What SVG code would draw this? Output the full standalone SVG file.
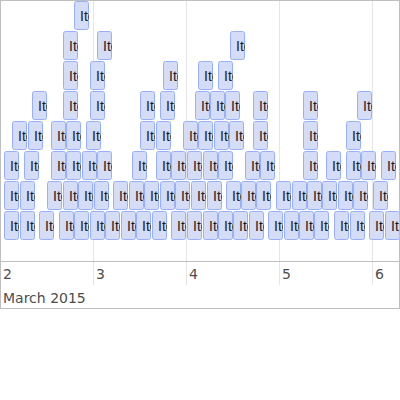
<svg xmlns="http://www.w3.org/2000/svg" width="400" height="400" viewBox="0 0 400 400">
<style>
.bx{fill:#D5DDF6;stroke:#97B0F8;stroke-width:1}
.it{font-family:"Liberation Sans",Arial,sans-serif;font-size:14px;fill:#1A1A1A}
.grid{stroke:#e5e5e5;stroke-width:1}
.ax{font-family:"DejaVu Sans",sans-serif;font-size:14px;fill:#4d4d4d}
</style>
<defs>
<g id="itm"><rect class="bx" x="0.5" y="0.5" width="14" height="28" rx="2"/><text class="it" x="6" y="20">Item</text></g>
</defs>
<rect x="0" y="0" width="400" height="400" fill="#fff"/>
<g id="grid">
<line class="grid" x1="93.5" y1="1" x2="93.5" y2="285"/>
<line class="grid" x1="186.5" y1="1" x2="186.5" y2="285"/>
<line class="grid" x1="279.5" y1="1" x2="279.5" y2="285"/>
<line class="grid" x1="372.5" y1="1" x2="372.5" y2="285"/>
</g>
<g id="items">
<svg id="i0-0" x="74" y="1" width="15" height="29"><use href="#itm"/></svg>
<svg id="i1-0" x="63" y="31" width="15" height="29"><use href="#itm"/></svg>
<svg id="i1-1" x="97" y="31" width="15" height="29"><use href="#itm"/></svg>
<svg id="i1-2" x="230" y="31" width="15" height="29"><use href="#itm"/></svg>
<svg id="i2-0" x="63" y="61" width="15" height="29"><use href="#itm"/></svg>
<svg id="i2-1" x="90" y="61" width="15" height="29"><use href="#itm"/></svg>
<svg id="i2-2" x="163" y="61" width="15" height="29"><use href="#itm"/></svg>
<svg id="i2-3" x="198" y="61" width="15" height="29"><use href="#itm"/></svg>
<svg id="i2-4" x="218" y="61" width="15" height="29"><use href="#itm"/></svg>
<svg id="i3-0" x="32" y="91" width="15" height="29"><use href="#itm"/></svg>
<svg id="i3-1" x="63" y="91" width="15" height="29"><use href="#itm"/></svg>
<svg id="i3-2" x="90" y="91" width="15" height="29"><use href="#itm"/></svg>
<svg id="i3-3" x="140" y="91" width="15" height="29"><use href="#itm"/></svg>
<svg id="i3-4" x="160" y="91" width="15" height="29"><use href="#itm"/></svg>
<svg id="i3-5" x="195" y="91" width="15" height="29"><use href="#itm"/></svg>
<svg id="i3-6" x="210" y="91" width="15" height="29"><use href="#itm"/></svg>
<svg id="i3-7" x="225" y="91" width="15" height="29"><use href="#itm"/></svg>
<svg id="i3-8" x="253" y="91" width="15" height="29"><use href="#itm"/></svg>
<svg id="i3-9" x="303" y="91" width="15" height="29"><use href="#itm"/></svg>
<svg id="i3-10" x="357" y="91" width="15" height="29"><use href="#itm"/></svg>
<svg id="i4-0" x="12" y="121" width="15" height="29"><use href="#itm"/></svg>
<svg id="i4-1" x="28" y="121" width="15" height="29"><use href="#itm"/></svg>
<svg id="i4-2" x="51" y="121" width="15" height="29"><use href="#itm"/></svg>
<svg id="i4-3" x="66" y="121" width="15" height="29"><use href="#itm"/></svg>
<svg id="i4-4" x="86" y="121" width="15" height="29"><use href="#itm"/></svg>
<svg id="i4-5" x="140" y="121" width="15" height="29"><use href="#itm"/></svg>
<svg id="i4-6" x="156" y="121" width="15" height="29"><use href="#itm"/></svg>
<svg id="i4-7" x="183" y="121" width="15" height="29"><use href="#itm"/></svg>
<svg id="i4-8" x="198" y="121" width="15" height="29"><use href="#itm"/></svg>
<svg id="i4-9" x="214" y="121" width="15" height="29"><use href="#itm"/></svg>
<svg id="i4-10" x="229" y="121" width="15" height="29"><use href="#itm"/></svg>
<svg id="i4-11" x="253" y="121" width="15" height="29"><use href="#itm"/></svg>
<svg id="i4-12" x="303" y="121" width="15" height="29"><use href="#itm"/></svg>
<svg id="i4-13" x="346" y="121" width="15" height="29"><use href="#itm"/></svg>
<svg id="i5-0" x="4" y="151" width="15" height="29"><use href="#itm"/></svg>
<svg id="i5-1" x="24" y="151" width="15" height="29"><use href="#itm"/></svg>
<svg id="i5-2" x="51" y="151" width="15" height="29"><use href="#itm"/></svg>
<svg id="i5-3" x="66" y="151" width="15" height="29"><use href="#itm"/></svg>
<svg id="i5-4" x="82" y="151" width="15" height="29"><use href="#itm"/></svg>
<svg id="i5-5" x="97" y="151" width="15" height="29"><use href="#itm"/></svg>
<svg id="i5-6" x="132" y="151" width="15" height="29"><use href="#itm"/></svg>
<svg id="i5-7" x="156" y="151" width="15" height="29"><use href="#itm"/></svg>
<svg id="i5-8" x="171" y="151" width="15" height="29"><use href="#itm"/></svg>
<svg id="i5-9" x="187" y="151" width="15" height="29"><use href="#itm"/></svg>
<svg id="i5-10" x="203" y="151" width="15" height="29"><use href="#itm"/></svg>
<svg id="i5-11" x="218" y="151" width="15" height="29"><use href="#itm"/></svg>
<svg id="i5-12" x="245" y="151" width="15" height="29"><use href="#itm"/></svg>
<svg id="i5-13" x="260" y="151" width="15" height="29"><use href="#itm"/></svg>
<svg id="i5-14" x="303" y="151" width="15" height="29"><use href="#itm"/></svg>
<svg id="i5-15" x="326" y="151" width="15" height="29"><use href="#itm"/></svg>
<svg id="i5-16" x="346" y="151" width="15" height="29"><use href="#itm"/></svg>
<svg id="i5-17" x="361" y="151" width="15" height="29"><use href="#itm"/></svg>
<svg id="i5-18" x="381" y="151" width="15" height="29"><use href="#itm"/></svg>
<svg id="i6-0" x="4" y="181" width="15" height="29"><use href="#itm"/></svg>
<svg id="i6-1" x="20" y="181" width="15" height="29"><use href="#itm"/></svg>
<svg id="i6-2" x="47" y="181" width="15" height="29"><use href="#itm"/></svg>
<svg id="i6-3" x="63" y="181" width="15" height="29"><use href="#itm"/></svg>
<svg id="i6-4" x="78" y="181" width="15" height="29"><use href="#itm"/></svg>
<svg id="i6-5" x="94" y="181" width="15" height="29"><use href="#itm"/></svg>
<svg id="i6-6" x="113" y="181" width="15" height="29"><use href="#itm"/></svg>
<svg id="i6-7" x="129" y="181" width="15" height="29"><use href="#itm"/></svg>
<svg id="i6-8" x="144" y="181" width="15" height="29"><use href="#itm"/></svg>
<svg id="i6-9" x="160" y="181" width="15" height="29"><use href="#itm"/></svg>
<svg id="i6-10" x="175" y="181" width="15" height="29"><use href="#itm"/></svg>
<svg id="i6-11" x="191" y="181" width="15" height="29"><use href="#itm"/></svg>
<svg id="i6-12" x="207" y="181" width="15" height="29"><use href="#itm"/></svg>
<svg id="i6-13" x="226" y="181" width="15" height="29"><use href="#itm"/></svg>
<svg id="i6-14" x="241" y="181" width="15" height="29"><use href="#itm"/></svg>
<svg id="i6-15" x="256" y="181" width="15" height="29"><use href="#itm"/></svg>
<svg id="i6-16" x="276" y="181" width="15" height="29"><use href="#itm"/></svg>
<svg id="i6-17" x="292" y="181" width="15" height="29"><use href="#itm"/></svg>
<svg id="i6-18" x="307" y="181" width="15" height="29"><use href="#itm"/></svg>
<svg id="i6-19" x="322" y="181" width="15" height="29"><use href="#itm"/></svg>
<svg id="i6-20" x="338" y="181" width="15" height="29"><use href="#itm"/></svg>
<svg id="i6-21" x="353" y="181" width="15" height="29"><use href="#itm"/></svg>
<svg id="i6-22" x="373" y="181" width="15" height="29"><use href="#itm"/></svg>
<svg id="i7-0" x="4" y="211" width="15" height="29"><use href="#itm"/></svg>
<svg id="i7-1" x="20" y="211" width="15" height="29"><use href="#itm"/></svg>
<svg id="i7-2" x="39" y="211" width="15" height="29"><use href="#itm"/></svg>
<svg id="i7-3" x="59" y="211" width="15" height="29"><use href="#itm"/></svg>
<svg id="i7-4" x="74" y="211" width="15" height="29"><use href="#itm"/></svg>
<svg id="i7-5" x="90" y="211" width="15" height="29"><use href="#itm"/></svg>
<svg id="i7-6" x="105" y="211" width="15" height="29"><use href="#itm"/></svg>
<svg id="i7-7" x="121" y="211" width="15" height="29"><use href="#itm"/></svg>
<svg id="i7-8" x="136" y="211" width="15" height="29"><use href="#itm"/></svg>
<svg id="i7-9" x="152" y="211" width="15" height="29"><use href="#itm"/></svg>
<svg id="i7-10" x="171" y="211" width="15" height="29"><use href="#itm"/></svg>
<svg id="i7-11" x="187" y="211" width="15" height="29"><use href="#itm"/></svg>
<svg id="i7-12" x="203" y="211" width="15" height="29"><use href="#itm"/></svg>
<svg id="i7-13" x="218" y="211" width="15" height="29"><use href="#itm"/></svg>
<svg id="i7-14" x="233" y="211" width="15" height="29"><use href="#itm"/></svg>
<svg id="i7-15" x="249" y="211" width="15" height="29"><use href="#itm"/></svg>
<svg id="i7-16" x="268" y="211" width="15" height="29"><use href="#itm"/></svg>
<svg id="i7-17" x="284" y="211" width="15" height="29"><use href="#itm"/></svg>
<svg id="i7-18" x="299" y="211" width="15" height="29"><use href="#itm"/></svg>
<svg id="i7-19" x="314" y="211" width="15" height="29"><use href="#itm"/></svg>
<svg id="i7-20" x="334" y="211" width="15" height="29"><use href="#itm"/></svg>
<svg id="i7-21" x="350" y="211" width="15" height="29"><use href="#itm"/></svg>
<svg id="i7-22" x="369" y="211" width="15" height="29"><use href="#itm"/></svg>
<svg id="i7-23" x="385" y="211" width="14" height="29"><use href="#itm"/></svg>
</g>
<g id="frame" fill="none" stroke="#bfbfbf" stroke-width="1">
<rect x="0.5" y="0.5" width="399" height="308"/>
<line x1="0" y1="261.5" x2="400" y2="261.5"/>
</g>
<g id="axis">
<text class="ax" x="3" y="279">2</text>
<text class="ax" x="96" y="279">3</text>
<text class="ax" x="189" y="279">4</text>
<text class="ax" x="282" y="279">5</text>
<text class="ax" x="375" y="279">6</text>
<text class="ax" x="3" y="303">March 2015</text>
</g>
</svg>
